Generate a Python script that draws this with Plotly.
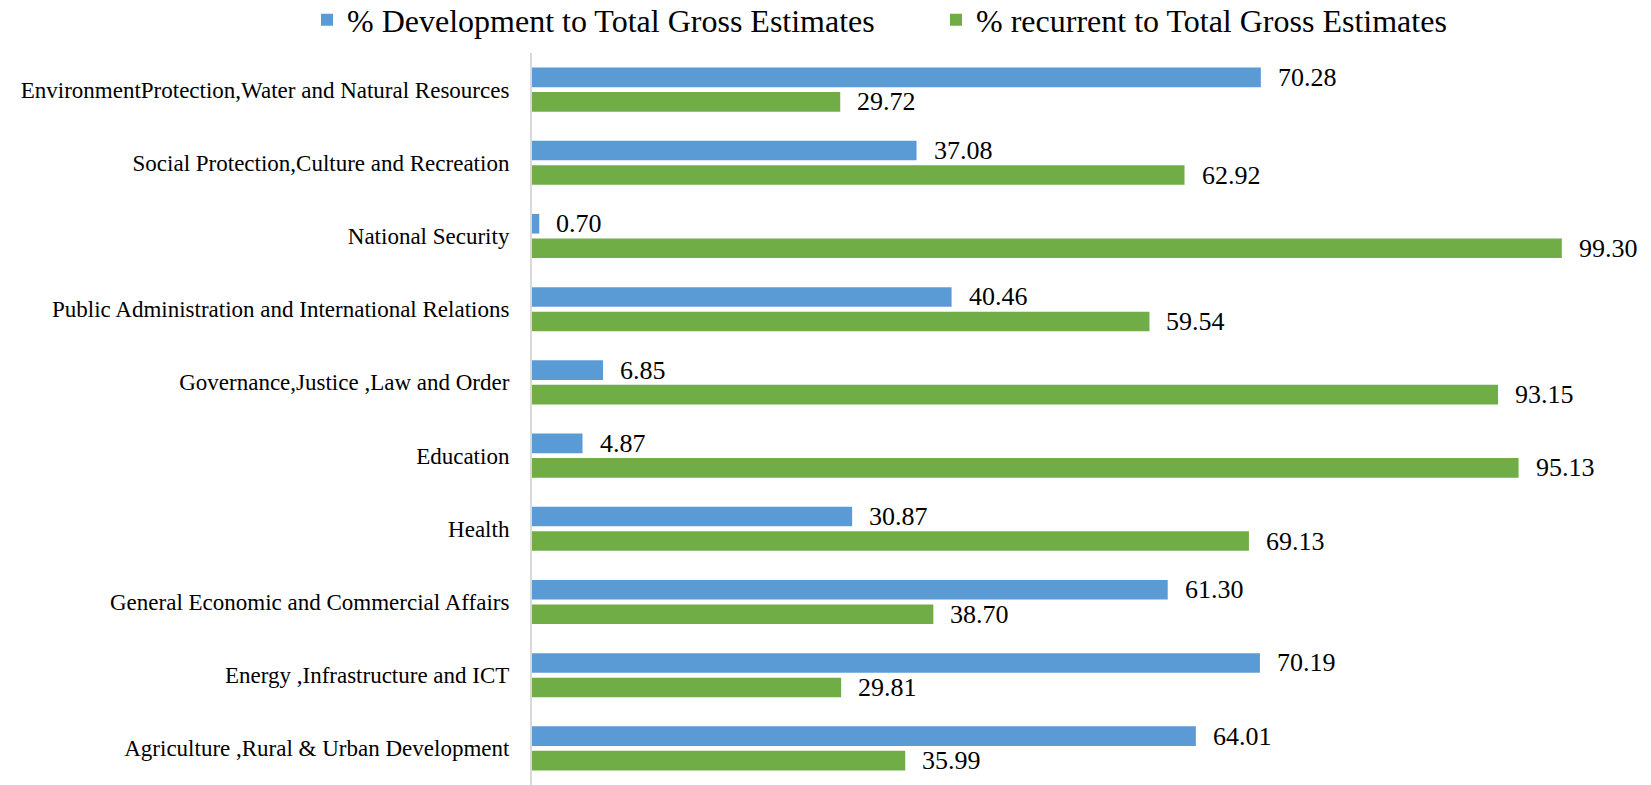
import plotly.graph_objects as go

# Sectors, listed bottom to top as they appear on the category axis
sectors = [
    "Agriculture ,Rural & Urban Development",
    "Energy ,Infrastructure and ICT",
    "General Economic and Commercial Affairs",
    "Health",
    "Education",
    "Governance,Justice ,Law and Order",
    "Public Administration and International Relations",
    "National Security",
    "Social Protection,Culture and Recreation",
    "EnvironmentProtection,Water and Natural Resources",
]

development_pct = [64.01, 70.19, 61.30, 30.87, 4.87, 6.85, 40.46, 0.70, 37.08, 70.28]
recurrent_pct = [35.99, 29.81, 38.70, 69.13, 95.13, 93.15, 59.54, 99.30, 62.92, 29.72]

dev_name = "% Development to Total Gross Estimates"
rec_name = "% recurrent to Total Gross Estimates"

BLUE = "#5B9BD5"
GREEN = "#70AD47"
FONT = "Liberation Serif, Times New Roman, serif"
TEXT = "#000000"

W, H = 1651, 785
PLOT_LEFT = 532

fig = go.Figure()

# Green trace first so that the blue bar sits above it within each group
fig.add_trace(go.Bar(
    y=sectors, x=recurrent_pct, name=rec_name, orientation="h",
    marker=dict(color=GREEN, line=dict(width=0)), legendrank=2,
))
fig.add_trace(go.Bar(
    y=sectors, x=development_pct, name=dev_name, orientation="h",
    marker=dict(color=BLUE, line=dict(width=0)), legendrank=1,
))

# Value labels to the right of each bar
annotations = []
for s, v in zip(sectors, development_pct):
    annotations.append(dict(
        x=v, y=s, xref="x", yref="y", text=f"{v:.2f}", showarrow=False,
        xanchor="left", yanchor="middle", xshift=15, yshift=12.25,
        font=dict(family=FONT, size=26, color=TEXT),
    ))
for s, v in zip(sectors, recurrent_pct):
    annotations.append(dict(
        x=v, y=s, xref="x", yref="y", text=f"{v:.2f}", showarrow=False,
        xanchor="left", yanchor="middle", xshift=15, yshift=-12.25,
        font=dict(family=FONT, size=26, color=TEXT),
    ))

fig.update_layout(
    width=W, height=H,
    margin=dict(l=0, r=0, t=53, b=0, autoexpand=False),
    paper_bgcolor="white", plot_bgcolor="white",
    barmode="group", bargap=0.33, bargroupgap=0.2,
    font=dict(family=FONT, color=TEXT),
    annotations=annotations,
    legend=dict(
        orientation="h", xref="container", yref="container",
        x=307 / W, xanchor="left", y=1 - 20 / H, yanchor="middle",
        entrywidth=584, itemwidth=30,
        font=dict(family=FONT, size=32, color=TEXT),
        bgcolor="rgba(0,0,0,0)",
    ),
    xaxis=dict(
        domain=[PLOT_LEFT / W, 1.0],
        range=[0, 107.9], showgrid=False, zeroline=False,
        showticklabels=False, showline=False, fixedrange=True,
    ),
    yaxis=dict(
        showgrid=False, zeroline=False, showline=True,
        linecolor="#D9D9D9", linewidth=2, ticks="",
        ticklabelstandoff=16, automargin=False,
        tickfont=dict(family=FONT, size=23, color=TEXT),
        categoryorder="array", categoryarray=sectors,
    ),
)

fig.write_html("out.html")
